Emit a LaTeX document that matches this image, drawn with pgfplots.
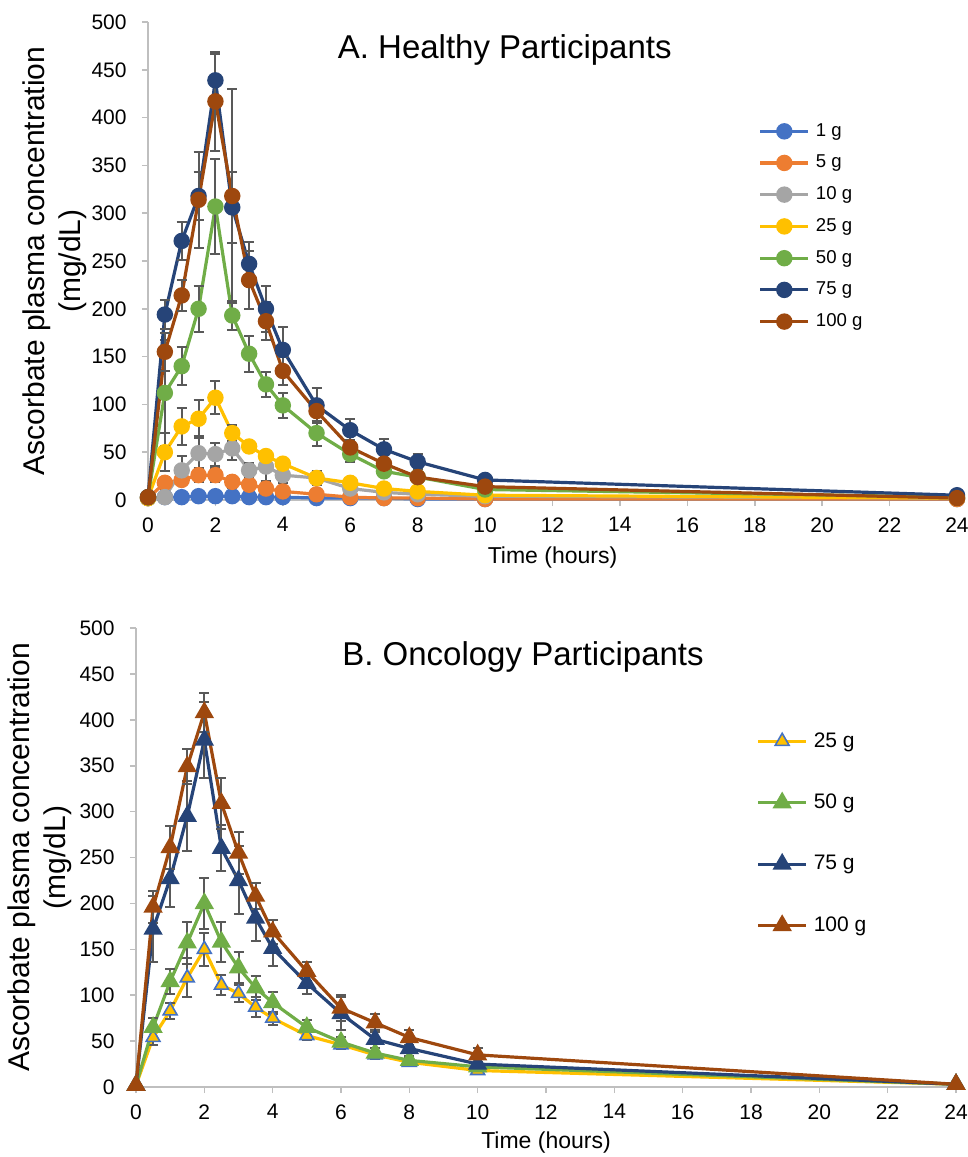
\documentclass[border=0pt]{standalone}
\usepackage{fontspec}
\setmainfont{Liberation Sans}
\usepackage{pgfplots}
\usepackage{pgfplotstable}
\pgfplotsset{compat=1.18}

\definecolor{c1}{HTML}{4472C4}
\definecolor{c5}{HTML}{ED7D31}
\definecolor{c10}{HTML}{A5A5A5}
\definecolor{c25}{HTML}{FFC000}
\definecolor{c50}{HTML}{70AD47}
\definecolor{c75}{HTML}{264478}
\definecolor{c100}{HTML}{9E480E}
\definecolor{axgray}{HTML}{BFBFBF}
\definecolor{errgray}{HTML}{595959}

% healthy participants: mean and error per dose
\pgfplotstableread{
t   g1 e1 g5 e5 g10 e10 g25 e25 g50 e50 g75 e75 g100 e100
0   2  0  2  0  2   0   2   0   3   0   3   0   3    0
0.5 3  1  18 6  3   2   50  20  112 55  194 15  155  20
1   3  1  21 5  31  15  77  19  140 20  271 20  214  16
1.5 4  1  26 7  49  18  85  20  200 24  318 25  314  50
2   4  1  26 7  48  12  107 17  307 50  439 28  417  52
2.5 4  1  19 6  54  12  70  8   193 15  306 37  318  112
3   3  1  16 5  31  8   56  6   153 19  247 23  230  30
3.5 3  1  12 5  35  15  46  5   121 13  200 24  187  20
4   3  1  9  4  26  8   38  5   99  13  157 24  135  15
5   2  1  6  3  23  7   23  4   70  13  99  18  93   10
6   2  1  3  2  12  3   18  3   48  8   73  12  55   8
7   2  1  2  2  8   2   12  2   30  6   53  11  38   6
8   1  0  2  1  6   2   9   2   24  5   40  8   24   5
10  1  0  1  1  4   1   5   1   11  3   21  5   14   3
24  1  0  1  0  2   1   2   1   3   1   5   2   2    1
}\topdata

% oncology participants
\pgfplotstableread{
t   g25 e25 g50 e50 g75 e75 g100 e100
0   2   0   2   0   2   0   2    0
0.5 54  8   65  10  172 36  196  17
1   83  9   115 14  227 31  261  23
1.5 119 21  157 23  295 38  349  19
2   150 18  200 28  378 41  408  21
2.5 111 11  158 22  260 25  309  28
3   102 9   130 17  225 37  255  23
3.5 87  11  108 13  184 25  208  14
4   75  7   92  12  151 19  169  13
5   56  5   65  8   113 12  126  10
6   46  5   49  6   80  18  86   14
7   35  4   37  5   52  10  70   10
8   27  3   29  4   42  8   54   8
10  18  3   22  3   25  5   35   8
24  3   1   3   1   3   1   3    1
}\oncdata

\pgfplotsset{
  pkstyle/.style={
    scale only axis, clip=false,
    axis lines=left, axis line style={-, draw=axgray, line width=1pt},
    xmin=0, xmax=24, ymin=0, ymax=500,
    xtick={0,2,...,24}, ytick={0,50,...,500},
    tick align=outside, major tick length=3pt,
    tick style={axgray, line width=0.8pt},
    ticklabel style={font=\fontsize{10.5}{12}\selectfont, inner sep=0pt},
    /pgf/number format/assume math mode=true,
    xticklabel style={anchor=north, yshift=-5.5pt},
    yticklabel style={anchor=east, xshift=-7.5pt},
    xlabel={Time (hours)},
    ylabel={Ascorbate plasma concentration\\(mg/dL)},
    xlabel style={font=\fontsize{11.5}{14}\selectfont, anchor=center},
    ylabel style={font=\fontsize{15}{18}\selectfont, align=center, anchor=center, rotate=0},
    legend cell align=left,
    legend image code/.code={\draw[mark repeat=2, mark phase=2, #1] plot coordinates {(0pt,0pt) (12pt,0pt) (24pt,0pt)};},
  },
  errs/.style={error bars/.cd, y dir=both, y explicit,
    error bar style={errgray, line width=1pt, solid},
    error mark options={errgray, line width=1pt, mark size=2.5pt, rotate=90}},
  dot/.style={color=#1, line width=1.6pt, mark=*, mark size=3.3pt, mark options={solid, fill=#1, draw=#1}},
  tri/.style={color=#1, line width=1.6pt, mark=triangle*, mark size=4pt, mark options={solid, fill=#1, draw=#1}},
}

\begin{document}
\begin{tikzpicture}
\useasboundingbox (0,0) rectangle (484pt,-578.5pt);

\begin{axis}[pkstyle,
    at={(74pt,-250pt)}, anchor=south west,
    width=404.5pt, height=239pt,
    xlabel style={at={(axis description cs:0.5,-0.121)}},
    ylabel style={at={(axis description cs:-0.115,0.5)}},
    legend style={at={(axis description cs:0.747,0.797)}, anchor=north west,
      draw=none, fill=none, font=\fontsize{9.3}{11}\selectfont,
      nodes={inner sep=0pt}, row sep=7.9pt, column sep=3pt},
  ]
  \addplot[dot=c1, errs] table[x=t, y=g1, y error=e1] {\topdata};
  \addplot[dot=c5, errs] table[x=t, y=g5, y error=e5] {\topdata};
  \addplot[dot=c10, errs] table[x=t, y=g10, y error=e10] {\topdata};
  \addplot[dot=c25, errs] table[x=t, y=g25, y error=e25] {\topdata};
  \addplot[dot=c50, errs] table[x=t, y=g50, y error=e50] {\topdata};
  \addplot[dot=c75, errs] table[x=t, y=g75, y error=e75] {\topdata};
  \addplot[dot=c100, errs] table[x=t, y=g100, y error=e100] {\topdata};
  \legend{1 g, 5 g, 10 g, 25 g, 50 g, 75 g, 100 g}
  \node[font=\fontsize{16.5}{20}\selectfont] at (axis description cs:0.441,0.941) {A. Healthy Participants};
\end{axis}

\begin{axis}[pkstyle,
    at={(68pt,-543.5pt)}, anchor=south west,
    width=410pt, height=229.5pt,
    xlabel style={at={(axis description cs:0.5,-0.122)}},
    ylabel style={at={(axis description cs:-0.117,0.5)}},
    legend style={at={(axis description cs:0.749,0.782)}, anchor=north west,
      draw=none, fill=none, font=\fontsize{10.5}{12}\selectfont,
      nodes={inner sep=0pt}, row sep=21.9pt, column sep=3pt},
  ]
  \addplot[tri=c25, mark options={solid, fill=c25, draw=c1, line width=0.8pt}, errs] table[x=t, y=g25, y error=e25] {\oncdata};
  \addplot[tri=c50, errs] table[x=t, y=g50, y error=e50] {\oncdata};
  \addplot[tri=c75, errs] table[x=t, y=g75, y error=e75] {\oncdata};
  \addplot[tri=c100, errs] table[x=t, y=g100, y error=e100] {\oncdata};
  \legend{25 g, 50 g, 75 g, 100 g}
  \node[font=\fontsize{16.5}{20}\selectfont] at (axis description cs:0.472,0.937) {B. Oncology Participants};
\end{axis}
\end{tikzpicture}
\end{document}
